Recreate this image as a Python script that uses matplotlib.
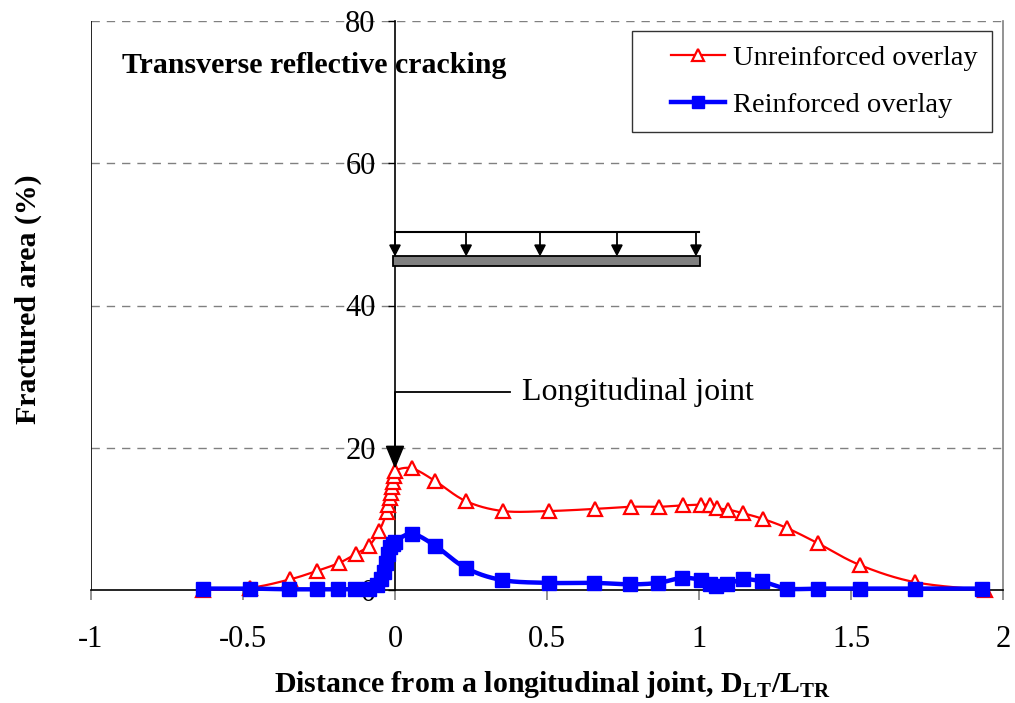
import numpy as np
import matplotlib
matplotlib.use("Agg")
import matplotlib.pyplot as plt
from matplotlib.patches import Rectangle, Polygon
from matplotlib.legend_handler import HandlerLine2D

plt.rcParams['font.family'] = ['Liberation Serif', 'DejaVu Serif']
plt.rcParams['axes.unicode_minus'] = False
plt.rcParams['mathtext.fontset'] = 'custom'
plt.rcParams['mathtext.rm'] = 'Liberation Serif'
plt.rcParams['mathtext.bf'] = 'Liberation Serif:bold'

# ---- data ----
x_unreinforced = [-0.63, -0.477, -0.345, -0.256, -0.184, -0.128, -0.086, -0.052,
                  -0.026, -0.022, -0.018, -0.014, -0.010, -0.007, -0.004, 0.0,
                  0.056, 0.133, 0.233, 0.355, 0.505, 0.658, 0.775, 0.868, 0.947,
                  1.008, 1.035, 1.06, 1.096, 1.145, 1.21, 1.29, 1.39, 1.53, 1.71, 1.94]
y_unreinforced = [0.0, 0.3, 1.5, 2.7, 3.8, 5.1, 6.2, 8.3,
                  11.0, 12.0, 12.9, 13.7, 14.5, 15.2, 16.0, 16.8,
                  17.1, 15.3, 12.5, 11.1, 11.1, 11.4, 11.7, 11.7, 11.9,
                  12.0, 11.9, 11.5, 11.3, 10.8, 10.0, 8.7, 6.6, 3.5, 1.1, 0.0]

x_reinforced = [-0.63, -0.477, -0.35, -0.257, -0.186, -0.13, -0.085, -0.06,
                -0.045, -0.035, -0.028, -0.022, -0.016, -0.008, 0.0, 0.056,
                0.133, 0.233, 0.352, 0.505, 0.655, 0.773, 0.866, 0.944, 1.008,
                1.035, 1.056, 1.093, 1.145, 1.207, 1.29, 1.39, 1.53, 1.71, 1.93]
y_reinforced = [0.2, 0.2, 0.1, 0.1, 0.1, 0.1, 0.2, 0.7,
                1.5, 2.6, 3.8, 5.0, 6.0, 6.5, 6.8, 7.9,
                6.2, 3.1, 1.4, 1.0, 1.0, 0.8, 1.0, 1.7, 1.4,
                0.8, 0.5, 0.8, 1.5, 1.2, 0.2, 0.2, 0.2, 0.2, 0.2]

x_ticks = [-1, -0.5, 0, 0.5, 1, 1.5, 2]
x_tick_labels = ['-1', '-0.5', '0', '0.5', '1', '1.5', '2']
y_ticks = [0, 20, 40, 60, 80]
y_tick_labels = ['0', '20', '40', '60', '80']
load_arrow_x = [0.0, 0.234, 0.477, 0.73, 0.99]


def smooth(x, y, n=24, sx=304.0, sy=7.11):
    """Excel-style smoothed line (cubic Bezier through points)."""
    P = np.column_stack([np.asarray(x) * sx, np.asarray(y) * sy])
    m = len(P)
    out = [P[0]]
    t = np.linspace(0, 1, n)[1:, None]
    for i in range(m - 1):
        p0 = P[i - 1] if i > 0 else P[i]
        p1 = P[i]
        p2 = P[i + 1]
        p3 = P[i + 2] if i + 2 < m else P[i + 1]
        c1 = p1 + (p2 - p0) / 6.0
        c2 = p2 - (p3 - p1) / 6.0
        seg = ((1 - t) ** 3) * p1 + 3 * ((1 - t) ** 2) * t * c1 + 3 * (1 - t) * t ** 2 * c2 + t ** 3 * p2
        out.extend(seg)
    out = np.array(out)
    return out[:, 0] / sx, out[:, 1] / sy


fig = plt.figure(figsize=(10.15, 7.03), dpi=100)
ax = fig.add_axes([91 / 1015, 113 / 703, 912 / 1015, 569 / 703])
ax.set_xlim(-1, 2)
ax.set_ylim(0, 80)

# gridlines
for yv in y_ticks[1:]:
    ax.axhline(yv, color='#808080', lw=1.0, ls=(0, (6, 5)), zorder=1)

# spines
ax.spines['left'].set_position(('data', 0))
ax.spines['left'].set_color('black')
ax.spines['left'].set_linewidth(1.2)
ax.spines['top'].set_visible(False)
ax.spines['right'].set_color('#808080')
ax.spines['right'].set_linewidth(1.2)
ax.spines['bottom'].set_color('black')
ax.spines['bottom'].set_linewidth(1.2)
ax.axvline(-1, color='black', lw=1.2, zorder=2)

ax.set_xticks(x_ticks)
ax.set_xticklabels(x_tick_labels)
ax.set_yticks(y_ticks)
ax.set_yticklabels(y_tick_labels)
ax.tick_params(axis='x', direction='out', length=7, width=1.2, color='#808080',
               pad=18, labelsize=22)
ax.tick_params(axis='y', direction='out', length=5, width=1.0, color='black',
               pad=9, labelsize=22)

# series
xs, ys = smooth(x_unreinforced, y_unreinforced)
ax.plot(xs, ys, color='red', lw=1.6, zorder=4, clip_on=False)
ax.plot(x_unreinforced, y_unreinforced, ls='none', marker='^', ms=10.5,
        mfc='white', mec='red', mew=1.6, zorder=5, clip_on=False)
xs, ys = smooth(x_reinforced, y_reinforced)
ax.plot(xs, ys, color='blue', lw=3.2, zorder=6, clip_on=False)
ax.plot(x_reinforced, y_reinforced, ls='none', marker='s', ms=9.5,
        mfc='blue', mec='blue', zorder=7, clip_on=False)

# legend proxies
h1, = ax.plot([], [], color='red', lw=1.6, marker='^', ms=9, mfc='white', mec='red', mew=1.6)
h2, = ax.plot([], [], color='blue', lw=3.2, marker='s', ms=9, mfc='blue', mec='blue')
leg = ax.legend([h1, h2], ['Unreinforced overlay', 'Reinforced overlay'],
                loc='upper right', bbox_to_anchor=(0.988, 0.982), borderaxespad=0,
                fontsize=20.5, frameon=True, fancybox=False, edgecolor='black',
                handlelength=2.75, borderpad=0.5, labelspacing=0.72, handletextpad=0.3,
                handler_map={h1: HandlerLine2D(xpad=0.85), h2: HandlerLine2D(xpad=0.85)})
leg.get_frame().set_linewidth(1.0)
leg.set_zorder(10)

# title inside plot
ax.text(-0.898, 73.8, 'Transverse reflective cracking', fontsize=21.5, fontweight='bold',
        ha='left', va='center', zorder=8)

# load diagram
ax.plot([0, 1.0], [50.3, 50.3], color='black', lw=1.5, zorder=8)
for xa in load_arrow_x:
    ax.plot([xa, xa], [50.3, 48.3], color='black', lw=1.3, zorder=8)
    ax.add_patch(Polygon([[xa - 0.017, 48.5], [xa + 0.017, 48.5], [xa, 47.1]],
                         closed=True, color='black', zorder=8))
ax.add_patch(Rectangle((-0.005, 45.6), 1.008, 1.4, facecolor='#808080',
                       edgecolor='black', lw=1.3, zorder=8))

# longitudinal joint annotation
ax.plot([0.378, 0.0, 0.0], [27.85, 27.85, 20.0], color='black', lw=1.3, zorder=8)
ax.add_patch(Polygon([[-0.028, 20.2], [0.028, 20.2], [0.0, 17.3]], closed=True,
                     color='black', zorder=8))
ax.text(0.418, 27.8, 'Longitudinal joint', fontsize=23, ha='left', va='center', zorder=8)

# axis labels
fig.text(28 / 1015, 1 - 299 / 703, 'Fractured area (%)', rotation=90, fontsize=21.5,
         fontweight='bold', ha='center', va='center')
fig.text(552 / 1015, 1 - 684 / 703,
         r'Distance from a longitudinal joint, D$_{\mathbf{LT}}$/L$_{\mathbf{TR}}$',
         fontsize=21.5, fontweight='bold', ha='center', va='center')

fig.savefig('out.png', dpi=100)
